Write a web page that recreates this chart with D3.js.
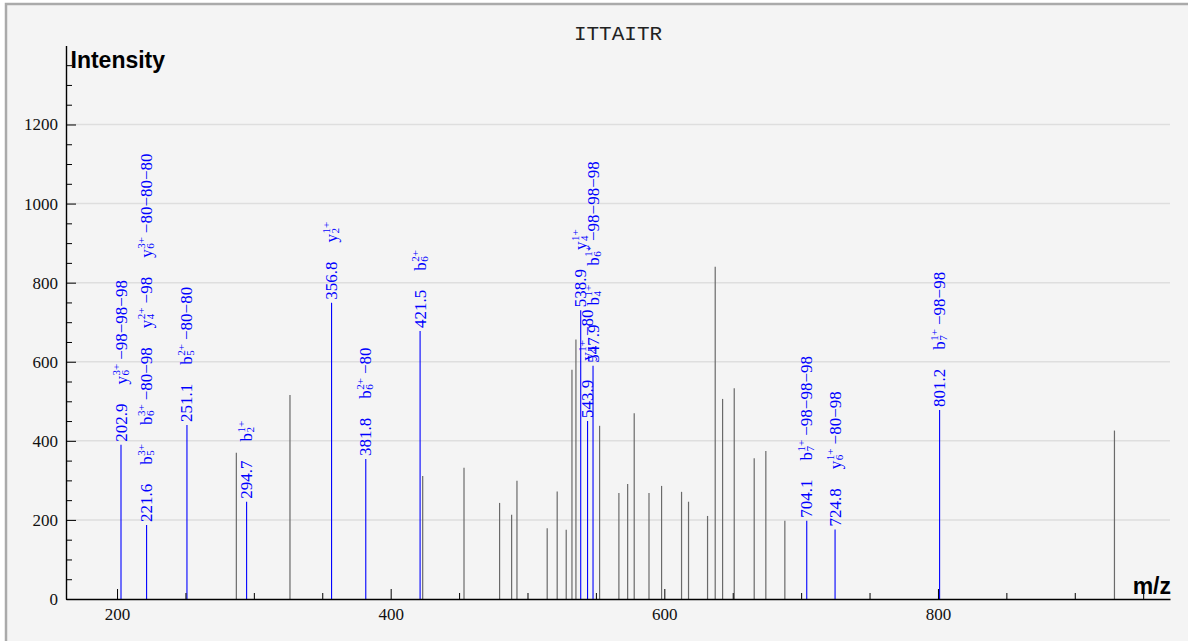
<!DOCTYPE html>
<html><head><meta charset="utf-8">
<script src="https://cdn.jsdelivr.net/npm/d3@7"></script>
<style>
body{margin:0;background:#fff;}
.ann{font-family:"Liberation Serif","Times New Roman",serif;font-size:17px;fill:#0000ff;}
.tick text{font-family:"Liberation Serif","Times New Roman",serif;font-size:17px;fill:#111;}
</style>
</head><body><svg id="c" width="1188" height="641"></svg>
<script>
const chartTitle = "ITTAITR";
const xAxisTitle = "m/z";
const yAxisTitle = "Intensity";

// unannotated (gray) peaks
const peakMz = [287.2, 326.4, 423.4, 453.6, 479.6, 488.4, 492.3, 514.4, 521.7, 528.3, 532.5, 535.4,
  552.7, 566.8, 573.2, 578.0, 588.8, 598.0, 612.6, 617.7, 631.6, 637.2, 642.6, 651.1, 665.7, 674.2,
  688.1, 929.0];
const peakIntensity = [370, 516, 311, 332, 243, 213, 299, 179, 272, 175, 580, 656,
  438, 268, 291, 470, 268, 286, 271, 246, 210, 840, 506, 533, 356, 374,
  198, 426];

// annotated (blue) peaks
const annMz = [202.9, 221.6, 251.1, 294.7, 356.8, 381.8, 421.5, 538.9, 543.9, 547.9, 704.1, 724.8, 801.2];
const annIntensity = [390, 187, 440, 246, 749, 354, 678, 730, 450, 590, 198, 176, 478];
const annLabels = [
  ["y6^3+ −98−98−98"],
  ["b5^3+", "b6^3+ −80−98", "y4^2+ −98", "y6^3+ −80−80−80"],
  ["b5^2+ −80−80"],
  ["b2^1+"],
  ["y2^1+"],
  ["b6^2+ −80"],
  ["b6^2+"],
  ["y4^1+"],
  ["y5^1+ −80"],
  ["b4^1+", "b6^1+ −98−98−98"],
  ["b7^1+ −98−98−98"],
  ["y6^1+ −80−98"],
  ["b7^1+ −98−98"]
];

const xMajorTicks = [200, 400, 600, 800];
const xMinorTicks = [250, 300, 350, 450, 500, 550, 650, 700, 750, 850, 900, 950];
const yMajorTicks = [0, 200, 400, 600, 800, 1000, 1200];
const yMinorTicks = [50,100,150,250,300,350,450,500,550,650,700,750,850,900,950,1050,1100,1150,1250,1300,1350];
const xDomain = [162.7, 969.6];
const yDomain = [0, 1400];

const svg = d3.select("#c");
// background frame
svg.append("rect").attr("x", 6).attr("y", 4).attr("width", 1200).attr("height", 660)
  .attr("fill", "#f4f4f4").attr("stroke", "#aaaaaa").attr("stroke-width", 2.5);

const plotLeft = 66, plotRight = 1170, plotTop = 45.4, plotBottom = 599;
const x = d3.scaleLinear().domain(xDomain).range([plotLeft, plotRight]);
const y = d3.scaleLinear().domain(yDomain).range([plotBottom, plotTop]);

// gridlines
svg.append("g").selectAll("line").data(yMajorTicks.filter(d => d > 0)).join("line")
  .attr("x1", plotLeft).attr("x2", plotRight).attr("y1", d => y(d)).attr("y2", d => y(d))
  .attr("stroke", "#dedede").attr("stroke-width", 1.5);

// title
svg.append("text").attr("x", (plotLeft + plotRight) / 2).attr("y", 40).attr("text-anchor", "middle")
  .attr("font-family", "'Liberation Mono','Courier New',monospace").attr("font-size", 21)
  .attr("fill", "#222").text(chartTitle);

// gray peaks
svg.append("g").selectAll("line").data(peakMz.map((m, i) => [m, peakIntensity[i]])).join("line")
  .attr("x1", d => x(d[0])).attr("x2", d => x(d[0]))
  .attr("y1", y(0)).attr("y2", d => y(d[1]))
  .attr("stroke", "#6a6a6a").attr("stroke-width", 1.2);

// blue peaks
svg.append("g").selectAll("line").data(annMz.map((m, i) => [m, annIntensity[i]])).join("line")
  .attr("x1", d => x(d[0])).attr("x2", d => x(d[0]))
  .attr("y1", y(0)).attr("y2", d => y(d[1]))
  .attr("stroke", "#0000ff").attr("stroke-width", 1.1);

// axes
function styleAxis(g) {
  g.selectAll(".domain").attr("stroke", "#000").attr("stroke-width", 1.4);
  g.selectAll(".tick line").attr("stroke", "#000").attr("stroke-width", 1);
}
const gx = svg.append("g").attr("transform", `translate(0,${plotBottom})`)
  .call(d3.axisBottom(x).tickValues(xMajorTicks).tickSize(-10).tickSizeOuter(0).tickPadding(9).tickFormat(d3.format("d")));
gx.call(styleAxis);
const gxm = svg.append("g").attr("transform", `translate(0,${plotBottom})`)
  .call(d3.axisBottom(x).tickValues(xMinorTicks).tickSize(-6).tickSizeOuter(0).tickFormat(""));
gxm.call(styleAxis); gxm.select(".domain").remove();

const gy = svg.append("g").attr("transform", `translate(${plotLeft},0)`)
  .call(d3.axisLeft(y).tickValues(yMajorTicks).tickSize(-10).tickSizeOuter(0).tickPadding(8).tickFormat(d3.format("d")));
gy.call(styleAxis);
const gym = svg.append("g").attr("transform", `translate(${plotLeft},0)`)
  .call(d3.axisLeft(y).tickValues(yMinorTicks).tickSize(-6).tickSizeOuter(0).tickFormat(""));
gym.call(styleAxis); gym.select(".domain").remove();

// axis titles
svg.append("text").attr("x", 70.5).attr("y", 68)
  .attr("font-family", "'Liberation Sans',Arial,sans-serif").attr("font-weight", "bold")
  .attr("font-size", 23).attr("fill", "#000").text(yAxisTitle);
svg.append("text").attr("x", 1171).attr("y", 594).attr("text-anchor", "end")
  .attr("font-family", "'Liberation Sans',Arial,sans-serif").attr("font-weight", "bold")
  .attr("font-size", 23).attr("fill", "#000").text(xAxisTitle);

// annotations
const gap = 19, base = 5.5;
const annG = svg.append("g");
annMz.forEach((mz, i) => {
  const g = annG.append("g")
    .attr("transform", `translate(${x(mz)},${y(annIntensity[i])}) rotate(-90)`);
  let offset = 3;
  const mt = g.append("text").attr("class", "ann").attr("x", offset).attr("y", base).text(mz.toFixed(1));
  offset += mt.node().getComputedTextLength() + gap;
  annLabels[i].forEach(lbl => {
    const m = lbl.match(/^([a-z])(\d+)\^(\d+\+)\s*(.*)$/);
    const t = g.append("text").attr("class", "ann");
    const b = t.append("tspan").attr("x", offset).attr("y", base).text(m[1]);
    const bw = b.node().getComputedTextLength();
    const sx = offset + bw + 0.5;
    const sup = t.append("tspan").attr("x", sx).attr("y", base - 7).attr("font-size", 11).text(m[3]);
    const sub = t.append("tspan").attr("x", sx).attr("y", base + 2).attr("font-size", 11).text(m[2]);
    let end = sx + Math.max(sup.node().getComputedTextLength(), sub.node().getComputedTextLength());
    if (m[4]) {
      const loss = t.append("tspan").attr("x", end + 4).attr("y", base).text(m[4]);
      end += 4 + loss.node().getComputedTextLength();
    }
    offset = end + gap;
  });
});
</script>
</body></html>
